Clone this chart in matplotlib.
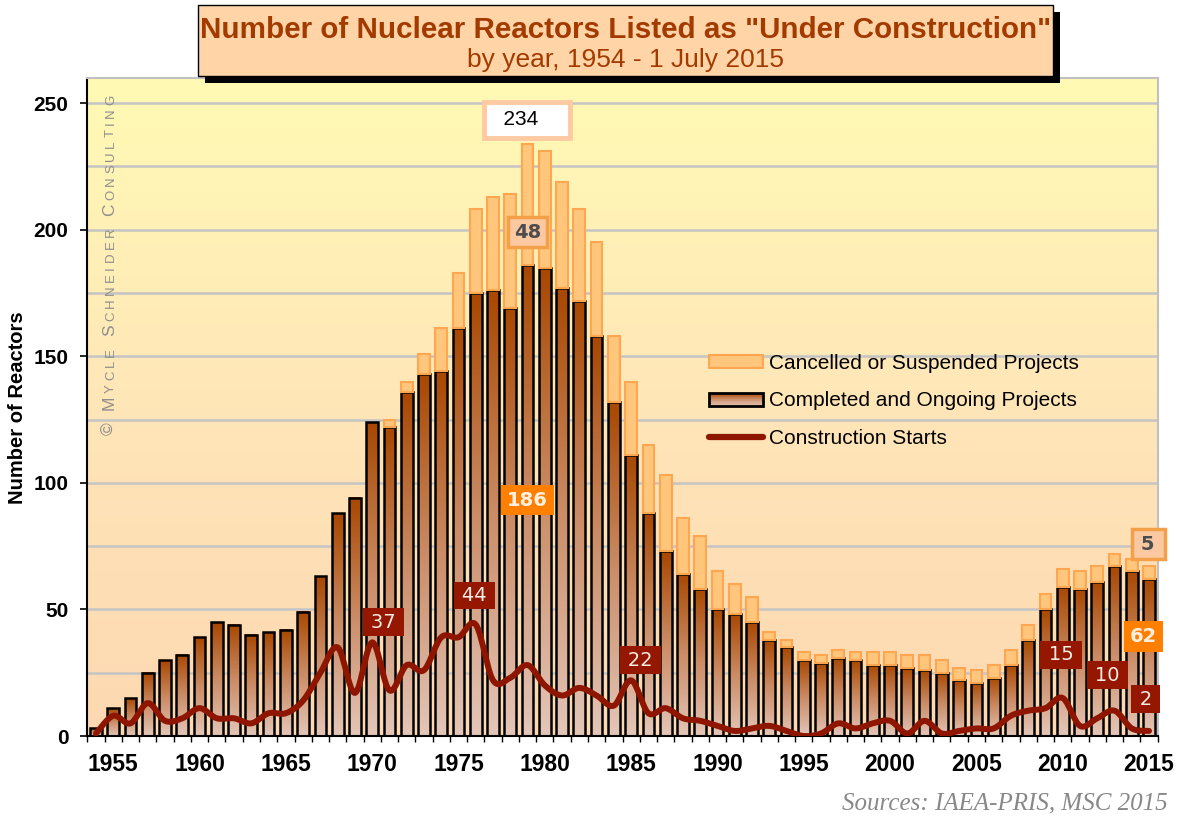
import numpy as np
import matplotlib
matplotlib.use('Agg')
import matplotlib.pyplot as plt
from matplotlib.patches import Rectangle, Patch
from matplotlib.lines import Line2D
from matplotlib.colors import LinearSegmentedColormap
from matplotlib.legend_handler import HandlerBase

plt.rcParams['font.family'] = ['Liberation Sans', 'DejaVu Sans']

years = np.arange(1954, 2016)
completed = [3, 11, 15, 25, 30, 32, 39, 45, 44, 40, 41, 42, 49, 63, 88, 94,
             124, 122, 136, 143, 144, 161, 175, 176, 169, 186, 185, 177, 172, 158,
             132, 111, 88, 73, 64, 58, 50, 48, 45, 38, 35, 30, 29, 31, 30, 28,
             28, 27, 26, 25, 22, 21, 23, 28, 38, 50, 59, 58, 61, 67, 65, 62]
cancelled = [0, 0, 0, 0, 0, 0, 0, 0, 0, 0, 0, 0, 0, 0, 0, 0,
             0, 3, 4, 8, 17, 22, 33, 37, 45, 48, 46, 42, 36, 37,
             26, 29, 27, 30, 22, 21, 15, 12, 10, 3, 3, 3, 3, 3, 3, 5,
             5, 5, 6, 5, 5, 5, 5, 6, 6, 6, 7, 7, 6, 5, 5, 5]
starts = [1, 8, 5, 13, 6, 7, 11, 7, 7, 5, 9, 9, 14, 25, 35, 17,
          37, 18, 28, 26, 39, 39, 44, 22, 23, 28, 20, 16, 19, 16,
          12, 22, 9, 11, 7, 6, 4, 2, 3, 4, 2, 0, 1, 5, 3, 5,
          6, 1, 6, 1, 2, 3, 3, 8, 10, 11, 15, 4, 7, 10, 3, 2]

# callouts: (text, year, value)
start_labels = [('37', 1970.65, 45), ('44', 1975.9, 55.5), ('22', 1985.55, 30),
                ('15', 2009.9, 32), ('10', 2012.6, 24), ('2', 2014.8, 14.6)]

completed = np.array(completed)
cancelled = np.array(cancelled)


def smooth(x, y, n=16):
    # catmull-rom, like excel's smoothed line
    x = np.asarray(x, float)
    y = np.asarray(y, float)
    px = np.concatenate([[x[0]], x, [x[-1]]])
    py = np.concatenate([[y[0]], y, [y[-1]]])
    t = np.linspace(0, 1, n)[:, None]
    out = []
    for p in (px, py):
        p0, p1, p2, p3 = p[:-3], p[1:-2], p[2:-1], p[3:]
        seg = 0.5 * (2 * p1 + (-p0 + p2) * t + (2 * p0 - 5 * p1 + 4 * p2 - p3) * t ** 2
                     + (-p0 + 3 * p1 - 3 * p2 + p3) * t ** 3)
        out.append(seg.T.ravel())
    return out


bar_cmap = LinearSegmentedColormap.from_list('bar', ['#E4C6B8', '#CB8C66', '#A84700'])
bg_cmap = LinearSegmentedColormap.from_list('bg', ['#FDD8B2', '#FFE6B8', '#FFFAB4'])


class GradientHandler(HandlerBase):
    def create_artists(self, legend, orig_handle, xdescent, ydescent, width, height, fontsize, trans):
        arts = []
        n = 12
        for i in range(n):
            arts.append(Rectangle((-xdescent, -ydescent + height * i / n), width, height / n,
                                  fc=bar_cmap((i + 0.5) / n), ec='none', transform=trans))
        arts.append(Rectangle((-xdescent, -ydescent), width, height, fc='none',
                              ec='black', lw=2, transform=trans))
        return arts


fig = plt.figure(figsize=(11.82, 8.18), dpi=100)
ax = fig.add_axes([87 / 1182, 82 / 818, 1071 / 1182, 658.3 / 818])
x0, x1 = 1953.48, 2015.52
ymax = 260

grad = np.linspace(0, 1, 256).reshape(-1, 1)
ax.imshow(grad, origin='lower', extent=(x0, x1, 0, ymax), aspect='auto', cmap=bg_cmap, zorder=0)

w = 0.68
for yr, c in zip(years, completed):
    ax.imshow(grad, origin='lower', extent=(yr - w / 2, yr + w / 2, 0, c), aspect='auto',
              cmap=bar_cmap, zorder=2, interpolation='bilinear')
ax.bar(years, completed, width=w, fc='none', ec='black', lw=1.8, zorder=3)
m = cancelled > 0
ax.bar(years[m], cancelled[m], bottom=completed[m], width=w, fc='#FFC67C', ec='#FFA650',
       lw=1.5, zorder=3)

sx, sy = smooth(years, starts)
ax.plot(sx, sy, color='#8E1600', lw=4.3, zorder=4, solid_capstyle='round')

for txt, xx, yy in start_labels:
    ax.text(xx, yy, '\u2009' + txt + '\u2009', ha='center', va='center', fontsize=14,
            family='DejaVu Sans', color='#F8ECE6', zorder=6,
            bbox=dict(boxstyle='square,pad=0.22', fc='#951700', ec='none'))

ax.text(1978.95, 243.4, '  234    ', ha='center', va='center', fontsize=15, color='black',
        zorder=6, bbox=dict(boxstyle='square,pad=0.4', fc='white', ec='#FFC9A2', lw=3.5))
ax.text(1979.0, 199, '48', ha='center', va='center', fontsize=14, fontweight='bold',
        family='DejaVu Sans', color='#4D4D4D', zorder=6,
        bbox=dict(boxstyle='square,pad=0.3', fc='#FAC9A2', ec='#F4A048', lw=2.5))
ax.text(2014.95, 75.8, '\u20095\u2009', ha='center', va='center', fontsize=14,
        fontweight='bold', family='DejaVu Sans', color='#4D4D4D', zorder=6,
        bbox=dict(boxstyle='square,pad=0.3', fc='#FAC9A2', ec='#F4A048', lw=2.5))
ax.text(1979.0, 93.2, '186', ha='center', va='center', fontsize=14, fontweight='bold',
        family='DejaVu Sans', color='#FFF0E2', zorder=6,
        bbox=dict(boxstyle='square,pad=0.3', fc='#FF7F00', ec='none'))
ax.text(2014.66, 39.2, '62', ha='center', va='center', fontsize=14, fontweight='bold',
        family='DejaVu Sans', color='#FFF0E2', zorder=6,
        bbox=dict(boxstyle='square,pad=0.3', fc='#FF7F00', ec='none'))

ax.set_xlim(x0, x1)
ax.set_ylim(0, ymax)
ax.set_xticks(np.arange(1955, 2016, 5))
ax.set_xticks(np.arange(1953.5, 2016, 1), minor=True)
ax.tick_params(axis='x', which='major', length=0, pad=12, labelsize=16.5)
ax.tick_params(axis='x', which='minor', length=4.3, width=1, direction='out')
ax.set_yticks(np.arange(0, 251, 50))
ax.set_yticks(np.arange(25, 251, 50), minor=True)
ax.tick_params(axis='y', which='major', length=5, width=1.2, pad=8.5, labelsize=15)
ax.tick_params(axis='y', which='minor', length=0)
for lab in ax.get_xticklabels() + ax.get_yticklabels():
    lab.set_fontweight('bold')
ax.set_axisbelow(True)
ax.grid(axis='y', which='both', color='#C4C4C4', lw=1.8, zorder=1)
for s in ('left', 'bottom'):
    ax.spines[s].set_color('black')
    ax.spines[s].set_linewidth(1.5)
for s in ('right', 'top'):
    ax.spines[s].set_color('#C0C0C0')
    ax.spines[s].set_linewidth(1.5)

grad_proxy = Patch()
handles = [Patch(fc='#FFC67C', ec='#FFA650', lw=1.5), grad_proxy,
           Line2D([], [], color='#8E1600', lw=4.5, solid_capstyle='round')]
labels = ['Cancelled or Suspended Projects', 'Completed and Ongoing Projects',
          'Construction Starts']
ax.legend(handles, labels, handler_map={grad_proxy: GradientHandler()}, loc='upper left',
          bbox_to_anchor=(0.5808, 0.581), frameon=False, fontsize=15, handlelength=2.6,
          handleheight=0.6, handletextpad=0.3, labelspacing=0.91, borderpad=0,
          borderaxespad=0)

fig.text(18 / 1182, 1 - 408 / 818, 'Number of Reactors', rotation=90, ha='center', va='center',
         fontsize=14.5, fontweight='bold')

# copyright in small caps, letter by letter going up the plot
renderer = fig.canvas.get_renderer()
mark = '\u00a9 Mycle Schneider Consulting'
glyphs = []
for ch in mark:
    if ch == ' ':
        glyphs.append((ch, 9.5, 5.0))
        continue
    size = 12.5 if (ch.isupper() or ch == '\u00a9') else 9.5
    t = fig.text(0, 0, ch.upper(), fontsize=size)
    glyphs.append((ch.upper(), size, t.get_window_extent(renderer).width))
    t.remove()
natural = sum(g[2] for g in glyphs)
track = (340 - natural) / (len(glyphs) - 1)
ypos = 435.0
for ch, size, adv in glyphs:
    if ch != ' ':
        fig.text(114 / 1182, (818 - ypos) / 818, ch, fontsize=size, color='#8E8E8E',
                 rotation=90, rotation_mode='anchor', ha='left', va='baseline')
    ypos -= adv + track

fig.text(1168 / 1182, 1 - 803 / 818, 'Sources: IAEA-PRIS, MSC 2015', ha='right', va='center',
         fontsize=18, style='italic', family=['Liberation Serif', 'DejaVu Serif'], color='#888888')

# title box with drop shadow
fig.patches.append(Rectangle(((198 + 7) / 1182, 1 - (76 + 7) / 818), 855 / 1182, 71 / 818,
                             transform=fig.transFigure, fc='black', ec='none', zorder=2))
fig.patches.append(Rectangle((198 / 1182, 1 - 76 / 818), 855 / 1182, 71 / 818,
                             transform=fig.transFigure, fc='#FFD5A8', ec='black', lw=1, zorder=2.5))
fig.text(625.5 / 1182, 1 - 29.5 / 818, 'Number of Nuclear Reactors Listed as "Under Construction"',
         ha='center', va='center', fontsize=21.3, fontweight='bold', color='#A33A00', zorder=3)
fig.text(625.5 / 1182, 1 - 60 / 818, 'by year, 1954 - 1 July 2015', ha='center', va='center',
         fontsize=19, color='#A33A00', zorder=3)

fig.savefig('out.png', dpi=100, facecolor='white')
